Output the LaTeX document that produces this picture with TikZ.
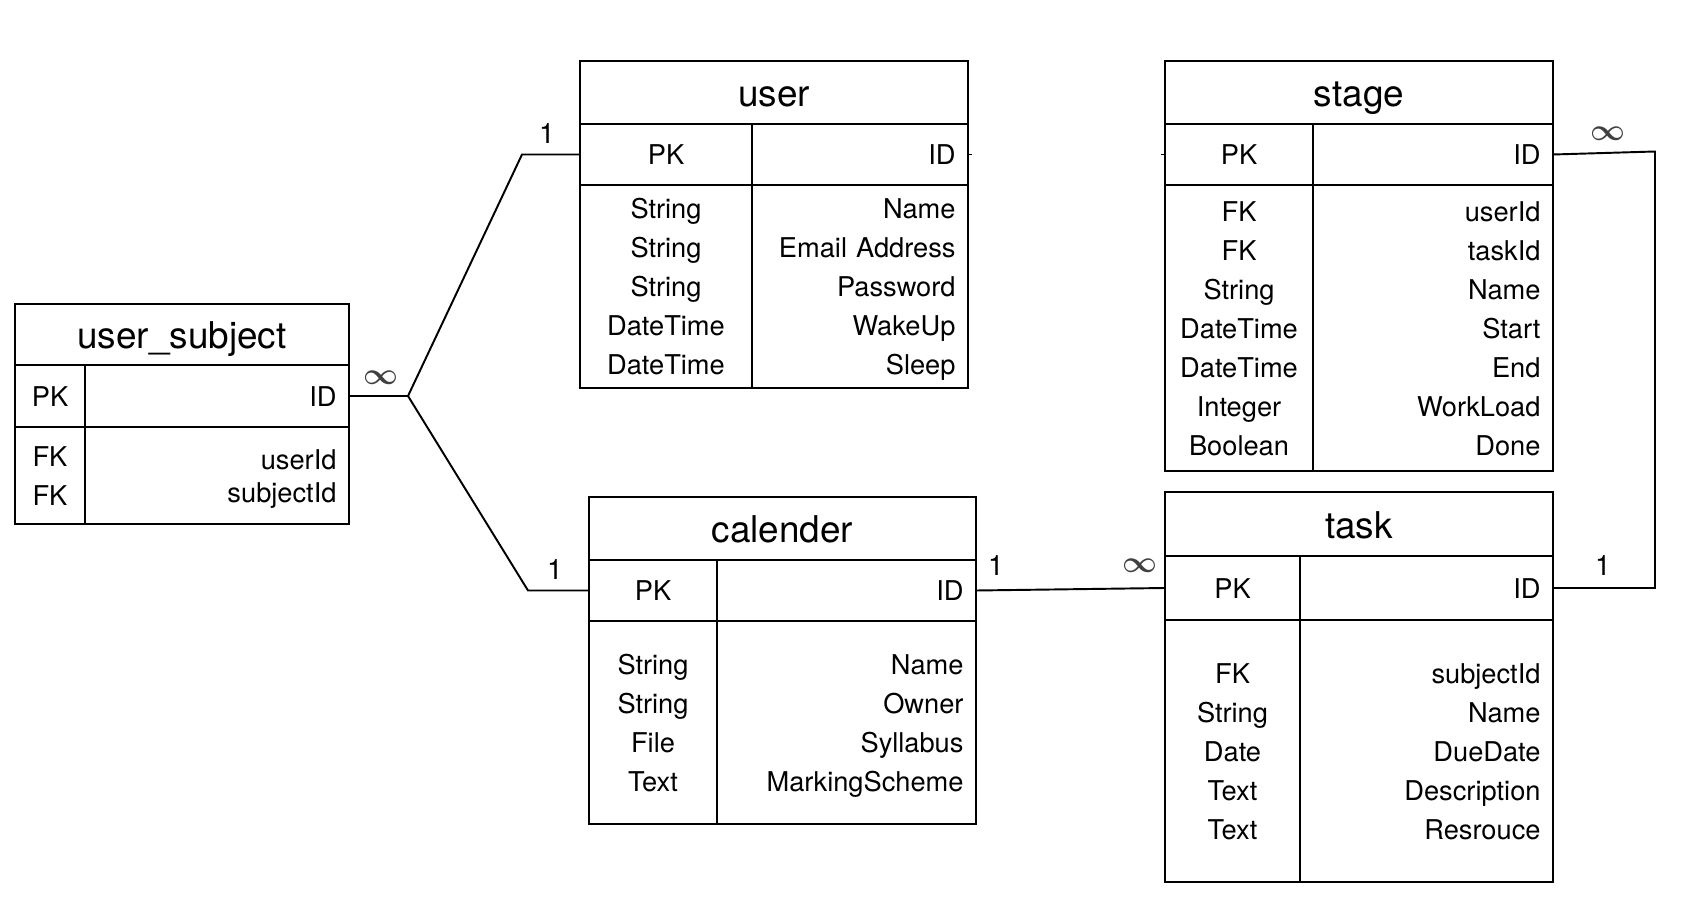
\documentclass[tikz,border=0pt]{standalone}
\usepackage{fontspec}
\setmainfont{TeX Gyre Heros}
\usetikzlibrary{positioning}

\newcommand{\titlefont}{\fontsize{21pt}{25pt}\selectfont}
\newcommand{\cellfont}{\fontsize{15.5pt}{22.2pt}\selectfont}
\newcommand{\topstrut}{\rule{0pt}{18.5pt}}

\tikzset{
    erbox/.style={draw, line width=1.1pt, inner sep=0pt, outer sep=0pt, anchor=north west},
    tabtitle/.style={erbox, font=\titlefont, text height=20.4pt, text depth=4pt},
    cell/.style={erbox, font=\cellfont, execute at begin node=\topstrut, execute at end node=\strut},
    keycell/.style={cell, align=center},
    namecell/.style={cell, align=right, inner xsep=0.25cm},
    conn/.style={line width=1.1pt},
    card/.style={inner sep=0pt, font=\fontsize{16pt}{18pt}\selectfont},
    many/.style={inner sep=0pt, text=black!75, font=\fontsize{18pt}{20pt}\selectfont\boldmath}
}

\begin{document}
\begin{tikzpicture}
                \useasboundingbox (0,0) rectangle (33.68,-17.96);
                % user_subject
                \node[tabtitle, minimum width=6.68cm, minimum height=1.22cm] (us) at (0.30,-6.08) {user\_subject};
                \node[keycell, text width=1.40cm, minimum height=1.24cm] (us-pk) at (0.30,-7.30) {PK};
                \node[namecell, text width=4.78cm, minimum height=1.24cm] (us-id) at (1.70,-7.30) {ID};
                \node[keycell, text width=1.40cm, minimum height=1.94cm] (us-types) at (0.30,-8.54) {FK\\FK};
                \node[namecell, text width=4.78cm, minimum height=1.94cm] (us-fields) at (1.70,-8.54) {userId\\[-3.4pt]subjectId};
                % user
                \node[tabtitle, minimum width=7.76cm, minimum height=1.26cm] (user) at (11.60,-1.22) {user};
                \node[keycell, text width=3.44cm, minimum height=1.22cm] (user-pk) at (11.60,-2.48) {PK};
                \node[namecell, text width=3.82cm, minimum height=1.22cm] (user-id) at (15.04,-2.48) {ID};
                \node[keycell, text width=3.44cm, minimum height=4.06cm] (user-types) at (11.60,-3.70) {String\\String\\String\\DateTime\\DateTime};
                \node[namecell, text width=3.82cm, minimum height=4.06cm] (user-fields) at (15.04,-3.70) {Name\\Email Address\\Password\\WakeUp\\Sleep};
                % stage
                \node[tabtitle, minimum width=7.76cm, minimum height=1.26cm] (stage) at (23.30,-1.22) {stage};
                \node[keycell, text width=2.96cm, minimum height=1.22cm] (stage-pk) at (23.30,-2.48) {PK};
                \node[namecell, text width=4.30cm, minimum height=1.22cm] (stage-id) at (26.26,-2.48) {ID};
                \node[keycell, text width=2.96cm, minimum height=5.72cm] (stage-types) at (23.30,-3.70) {FK\\FK\\String\\DateTime\\DateTime\\Integer\\Boolean};
                \node[namecell, text width=4.30cm, minimum height=5.72cm] (stage-fields) at (26.26,-3.70) {userId\\taskId\\Name\\Start\\End\\WorkLoad\\Done};
                % calender
                \node[tabtitle, minimum width=7.74cm, minimum height=1.26cm] (cal) at (11.78,-9.94) {calender};
                \node[keycell, text width=2.56cm, minimum height=1.22cm] (cal-pk) at (11.78,-11.20) {PK};
                \node[namecell, text width=4.68cm, minimum height=1.22cm] (cal-id) at (14.34,-11.20) {ID};
                \node[keycell, text width=2.56cm, minimum height=4.06cm] (cal-types) at (11.78,-12.42) {String\\String\\File\\Text};
                \node[namecell, text width=4.68cm, minimum height=4.06cm] (cal-fields) at (14.34,-12.42) {Name\\Owner\\Syllabus\\MarkingScheme};
                % task
                \node[tabtitle, minimum width=7.76cm, minimum height=1.28cm] (task) at (23.30,-9.84) {task};
                \node[keycell, text width=2.70cm, minimum height=1.28cm] (task-pk) at (23.30,-11.12) {PK};
                \node[namecell, text width=4.56cm, minimum height=1.28cm] (task-id) at (26.00,-11.12) {ID};
                \node[keycell, text width=2.70cm, minimum height=5.24cm] (task-types) at (23.30,-12.40) {FK\\String\\Date\\Text\\Text};
                \node[namecell, text width=4.56cm, minimum height=5.24cm] (task-fields) at (26.00,-12.40) {subjectId\\Name\\DueDate\\Description\\Resrouce};
                % relations
                \coordinate (fork) at (8.16,-7.92);
                \draw[conn] (us-id.east) -- (fork) -- ([xshift=-1.16cm]user-pk.west) -- (user-pk.west);
                \draw[conn] (fork) -- ([xshift=-1.22cm]cal-pk.west) -- (cal-pk.west);
                \draw[conn] (cal-id.east) -- (task-pk.west);
                \draw[conn] (stage-id.east) -- ++(2.04,0.06) |- (task-id.east);
                \draw[conn] (user-id.east) -- ++(0.08,0);
                \draw[conn] (stage-pk.west) -- ++(-0.08,0);
                \node[card] (c-user) at ([shift={(-0.66,0.41)}]user-pk.west) {1};
                \node[many] (m-us) at ([shift={(0.64,0.36)}]us-id.east) {$\infty$};
                \node[card] (c-cal) at ([shift={(-0.68,0.41)}]cal-pk.west) {1};
                \node[card] (c-calid) at ([shift={(0.40,0.49)}]cal-id.east) {1};
                \node[many] (m-task) at ([shift={(-0.50,0.44)}]task-pk.west) {$\infty$};
                \node[many] (m-stage) at ([shift={(1.10,0.41)}]stage-id.east) {$\infty$};
                \node[card] (c-task) at ([shift={(1.00,0.44)}]task-id.east) {1};
            \end{tikzpicture}
\end{document}
